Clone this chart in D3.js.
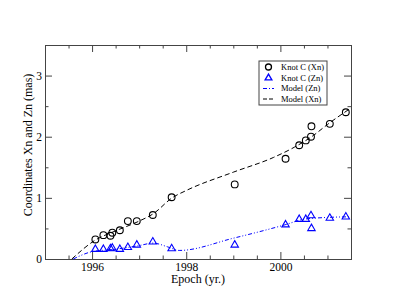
<!DOCTYPE html>
<html lang="en">
<head>
    <meta charset="UTF-8">
    <script src="https://cdn.jsdelivr.net/npm/d3@7"></script>
    <style>
        body { margin: 0; background: #fff; }
        text { font-family: "Liberation Serif", "Times New Roman", serif; }
    </style>
</head>
<body>
    <svg class="chart"></svg>
    <script>
        // observed epochs (same for both coordinates)
        var epochs = [1996.07, 1996.24, 1996.39, 1996.43, 1996.59, 1996.76, 1996.95, 1997.29, 1997.69,
            1999.03, 2000.11, 2000.40, 2000.54, 2000.65, 2000.66, 2001.05, 2001.39];
        var xnValues = [0.32, 0.39, 0.38, 0.43, 0.47, 0.62, 0.62, 0.72, 1.01,
            1.22, 1.64, 1.86, 1.94, 2.00, 2.17, 2.21, 2.40];
        var znValues = [0.16, 0.16, 0.17, 0.18, 0.16, 0.19, 0.23, 0.28, 0.17,
            0.23, 0.56, 0.65, 0.65, 0.71, 0.50, 0.67, 0.69];

        // model curves
        var modelXnEpoch = [1995.57, 1996.07, 1996.5, 1997.0, 1997.3, 1997.7, 1998.0, 1999.0, 1999.85, 2000.3, 2000.7, 2001.0, 2001.5];
        var modelXnValue = [0, 0.31, 0.46, 0.62, 0.74, 1.0, 1.12, 1.42, 1.66, 1.83, 2.02, 2.2, 2.47];
        var modelZnEpoch = [1995.6, 1996.0, 1996.5, 1997.0, 1997.3, 1997.6, 1997.85, 1999.0, 2000.1, 2000.5, 2001.0, 2001.5];
        var modelZnValue = [0, 0.12, 0.16, 0.22, 0.26, 0.2, 0.14, 0.34, 0.56, 0.65, 0.68, 0.69];

        var xMajor = [1996, 1998, 2000];
        var xMinor = [1995.5, 1996.5, 1997, 1997.5, 1998.5, 1999, 1999.5, 2000.5, 2001];
        var yMajor = [0, 1, 2, 3];
        var yMinor = [0.5, 1.5, 2.5, 3.5];

        var legendLabels = ["Knot C (Xn)", "Knot C (Zn)", "Model (Zn)", "Model (Xn)"];

        var W = 395, H = 305;
        var m = { left: 45, top: 45, right: 44, bottom: 46 };
        var w = W - m.left - m.right, h = H - m.top - m.bottom;

        var svg = d3.select(".chart").attr("width", W).attr("height", H);
        var g = svg.append("g").attr("transform", "translate(" + m.left + "," + m.top + ")");

        var x = d3.scaleLinear().domain([1995, 2001.5]).range([0, w]);
        var y = d3.scaleLinear().domain([0, 3.5]).range([h, 0]);

        var axisColor = "#444";

        function styleAxis(sel) {
            sel.selectAll("path").attr("stroke", axisColor);
            sel.selectAll("line").attr("stroke", axisColor);
            sel.selectAll("text").attr("fill", "#000").style("font-family", "Liberation Serif").style("font-size", "11.5px");
        }

        // bottom
        g.append("g").attr("transform", "translate(0," + h + ")")
            .call(d3.axisBottom(x).tickValues(xMajor).tickSize(-7).tickPadding(4).tickFormat(d3.format("d")))
            .call(styleAxis);
        g.append("g").attr("transform", "translate(0," + h + ")")
            .call(d3.axisBottom(x).tickValues(xMinor).tickSize(-3.5).tickFormat(""))
            .call(styleAxis);
        // top
        g.append("g")
            .call(d3.axisTop(x).tickValues(xMajor).tickSize(-7).tickFormat(""))
            .call(styleAxis);
        g.append("g")
            .call(d3.axisTop(x).tickValues(xMinor).tickSize(-3.5).tickFormat(""))
            .call(styleAxis);
        // left
        g.append("g")
            .call(d3.axisLeft(y).tickValues(yMajor).tickSize(-7).tickPadding(3).tickFormat(d3.format("d")))
            .call(styleAxis);
        g.append("g")
            .call(d3.axisLeft(y).tickValues(yMinor).tickSize(-3.5).tickFormat(""))
            .call(styleAxis);
        // right
        g.append("g").attr("transform", "translate(" + w + ",0)")
            .call(d3.axisRight(y).tickValues(yMajor).tickSize(-7).tickFormat(""))
            .call(styleAxis);
        g.append("g").attr("transform", "translate(" + w + ",0)")
            .call(d3.axisRight(y).tickValues(yMinor).tickSize(-3.5).tickFormat(""))
            .call(styleAxis);

        // axis titles
        g.append("text")
            .attr("x", w / 2)
            .attr("y", h + 24)
            .attr("text-anchor", "middle")
            .style("font-size", "12px")
            .text("Epoch (yr.)");
        g.append("text")
            .attr("transform", "translate(-13," + (h / 2 - 7) + ") rotate(-90)")
            .attr("text-anchor", "middle")
            .style("font-size", "12px")
            .text("Coordinates Xn and Zn (mas)");

        // model lines
        var line = d3.line()
            .x(function(d) { return x(d[0]); })
            .y(function(d) { return y(d[1]); })
            .curve(d3.curveMonotoneX);

        g.append("path")
            .datum(d3.zip(modelXnEpoch, modelXnValue))
            .attr("d", line)
            .attr("fill", "none")
            .attr("stroke", "#000")
            .attr("stroke-width", 1)
            .attr("stroke-dasharray", "5,3");

        g.append("path")
            .datum(d3.zip(modelZnEpoch, modelZnValue))
            .attr("d", line)
            .attr("fill", "none")
            .attr("stroke", "#0000ff")
            .attr("stroke-width", 1)
            .attr("stroke-dasharray", "4,2,1,2,1,2");

        // observed points
        var tri = d3.symbol().type(d3.symbolTriangle).size(24);

        g.selectAll(".zn")
            .data(d3.zip(epochs, znValues))
            .enter().append("path")
            .attr("class", "zn")
            .attr("d", tri)
            .attr("transform", function(d) { return "translate(" + x(d[0]) + "," + y(d[1]) + ")"; })
            .attr("fill", "none")
            .attr("stroke", "#0000ff")
            .attr("stroke-width", 1.1);

        g.selectAll(".xn")
            .data(d3.zip(epochs, xnValues))
            .enter().append("circle")
            .attr("class", "xn")
            .attr("cx", function(d) { return x(d[0]); })
            .attr("cy", function(d) { return y(d[1]); })
            .attr("r", 3.4)
            .attr("fill", "none")
            .attr("stroke", "#000")
            .attr("stroke-width", 1.1);

        // legend
        var lg = svg.append("g").attr("transform", "translate(259,61)");
        lg.append("rect")
            .attr("width", 68).attr("height", 44)
            .attr("fill", "#fff")
            .attr("stroke", axisColor)
            .attr("stroke-width", 1);

        lg.selectAll(".lt")
            .data(legendLabels)
            .enter().append("text")
            .attr("class", "lt")
            .attr("x", 22)
            .attr("y", function(d, i) { return 9 + i * 10.5; })
            .style("font-size", "8.5px")
            .text(function(d) { return d; });

        lg.append("circle")
            .attr("cx", 9.5).attr("cy", 6)
            .attr("r", 3)
            .attr("fill", "none").attr("stroke", "#000").attr("stroke-width", 1.3);
        lg.append("path")
            .attr("d", d3.symbol().type(d3.symbolTriangle).size(20))
            .attr("transform", "translate(9.5,17)")
            .attr("fill", "none").attr("stroke", "#0000ff").attr("stroke-width", 1.3);
        lg.append("line")
            .attr("x1", 4).attr("x2", 15).attr("y1", 27.5).attr("y2", 27.5)
            .attr("stroke", "#0000ff").attr("stroke-dasharray", "4,2,1,2");
        lg.append("line")
            .attr("x1", 4).attr("x2", 15).attr("y1", 38).attr("y2", 38)
            .attr("stroke", "#000").attr("stroke-dasharray", "4,2");
    </script>
</body>
</html>
